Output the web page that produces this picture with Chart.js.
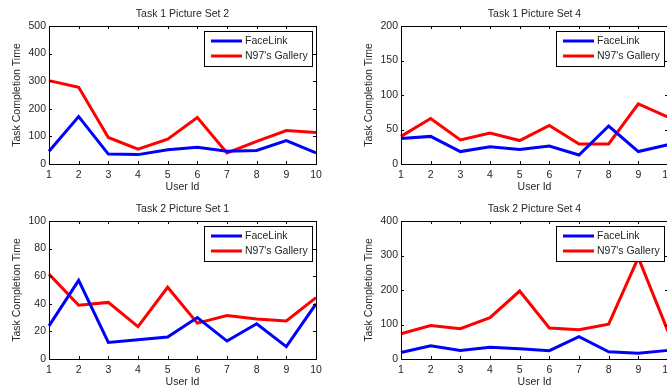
<!DOCTYPE html>
<html lang="en">
<head>
    <meta charset="UTF-8">
    <title>Task Completion Time</title>
    <script src="https://cdn.jsdelivr.net/npm/chart.js"></script>
    <style>
        body { margin: 0; width: 667px; height: 387px; overflow: hidden; background: #fff; position: relative; }
        .painel { position: absolute; width: 330px; height: 195px; }
    </style>
</head>
<body>

    <div class="painel" style="left:0;top:0"><canvas id="grafico_t1s2" width="330" height="195"></canvas></div>
    <div class="painel" style="left:352px;top:0"><canvas id="grafico_t1s4" width="330" height="195"></canvas></div>
    <div class="painel" style="left:0;top:195px"><canvas id="grafico_t2s1" width="330" height="195"></canvas></div>
    <div class="painel" style="left:352px;top:195px"><canvas id="grafico_t2s4" width="330" height="195"></canvas></div>

<script>
    // dados
    var userIds = ['1', '2', '3', '4', '5', '6', '7', '8', '9', '10'];

    var faceLinkT1S2 = [46, 172, 36, 34, 52, 61, 46, 49, 85, 40];
    var galleryT1S2  = [302, 278, 96, 54, 90, 168, 40, 82, 121, 114];

    var faceLinkT1S4 = [37, 40, 18, 25, 21, 26, 13, 55, 18, 28];
    var galleryT1S4  = [40, 66, 35, 45, 34, 56, 29, 29, 87, 68];

    var faceLinkT2S1 = [24, 57, 12, 14, 16, 30, 13, 25.5, 9, 40];
    var galleryT2S1  = [61.5, 39, 41, 23.5, 52, 26, 31.5, 29, 27.5, 44.5];

    var faceLinkT2S4 = [19, 38, 25, 34, 30, 24, 65, 21, 17, 25];
    var galleryT2S4  = [73, 97, 88, 120, 197, 90, 85, 101, 294, 80];

    var fonte = { family: '"Liberation Sans", Arial, sans-serif', size: 10.5 };
    var corTexto = '#262626';

    // caixa, ticks para dentro e legenda estilo matlab
    var caixaMatlab = {
        id: 'caixaMatlab',
        afterDatasetsDraw(chart) {
            var ctx = chart.ctx;
            var a = chart.chartArea;
            var x = chart.scales.x;
            var y = chart.scales.y;
            ctx.save();
            ctx.strokeStyle = '#000';
            ctx.lineWidth = 1;
            ctx.strokeRect(Math.round(a.left) + 0.5, Math.round(a.top) + 0.5, Math.round(a.width), Math.round(a.height));

            ctx.beginPath();
            x.ticks.forEach(function (t, i) {
                var px = Math.round(x.getPixelForTick(i)) + 0.5;
                ctx.moveTo(px, a.bottom); ctx.lineTo(px, a.bottom - 3);
                ctx.moveTo(px, a.top); ctx.lineTo(px, a.top + 3);
            });
            y.ticks.forEach(function (t, i) {
                var py = Math.round(y.getPixelForTick(i)) + 0.5;
                ctx.moveTo(a.left, py); ctx.lineTo(a.left + 3, py);
                ctx.moveTo(a.right, py); ctx.lineTo(a.right - 3, py);
            });
            ctx.stroke();

            // legenda
            var lx = Math.round(a.right) - 112, ly = Math.round(a.top) + 5, lw = 108, lh = 35;
            ctx.fillStyle = '#fff';
            ctx.fillRect(lx, ly, lw, lh);
            ctx.strokeRect(lx + 0.5, ly + 0.5, lw, lh);
            chart.data.datasets.forEach(function (ds, i) {
                var yy = ly + 10 + i * 15;
                ctx.strokeStyle = ds.borderColor;
                ctx.lineWidth = 3;
                ctx.beginPath();
                ctx.moveTo(lx + 7, yy);
                ctx.lineTo(lx + 38, yy);
                ctx.stroke();
                ctx.fillStyle = corTexto;
                ctx.font = fonte.size + 'px ' + fonte.family;
                ctx.textBaseline = 'middle';
                ctx.fillText(ds.label, lx + 41, yy);
            });
            ctx.restore();
        }
    };

    function plotarGrafico(id, titulo, faceLink, gallery, maximo, passo) {
        var ctx = document.getElementById(id).getContext('2d');

        var config = {
            type: 'line',
            data: {
                labels: userIds,
                datasets: [
                    { label: 'FaceLink', data: faceLink, borderColor: '#0000ff', borderWidth: 3, pointRadius: 0, tension: 0 },
                    { label: "N97's Gallery", data: gallery, borderColor: '#ff0000', borderWidth: 3, pointRadius: 0, tension: 0 }
                ]
            },
            options: {
                responsive: false,
                animation: false,
                layout: { padding: { left: 0, right: 14, top: 0, bottom: 0 } },
                plugins: {
                    legend: { display: false },
                    tooltip: { enabled: false },
                    title: {
                        display: true,
                        text: titulo,
                        fullSize: false,
                        color: corTexto,
                        font: { family: fonte.family, size: fonte.size, weight: 'normal' },
                        padding: { top: 7.7, bottom: 5.7 }
                    }
                },
                scales: {
                    x: {
                        type: 'category',
                        offset: false,
                        grid: { display: false, drawTicks: false },
                        border: { display: false },
                        ticks: { autoSkip: false, maxRotation: 0, padding: 5, color: corTexto, font: fonte },
                        title: { display: true, text: 'User Id', color: corTexto, font: fonte, padding: { top: 0, bottom: 2 } },
                        afterFit: function (scale) { scale.height = 31; }
                    },
                    y: {
                        min: 0,
                        max: maximo,
                        grid: { display: false, drawTicks: false },
                        border: { display: false },
                        ticks: { stepSize: passo, padding: 3, color: corTexto, font: fonte },
                        title: { display: true, text: 'Task Completion Time', color: corTexto, font: fonte, padding: { top: 11, bottom: 0 } },
                        afterFit: function (scale) { scale.width = 49; }
                    }
                }
            },
            plugins: [caixaMatlab]
        };

        new Chart(ctx, config);
    }

    plotarGrafico('grafico_t1s2', 'Task 1 Picture Set 2', faceLinkT1S2, galleryT1S2, 500, 100);
    plotarGrafico('grafico_t1s4', 'Task 1 Picture Set 4', faceLinkT1S4, galleryT1S4, 200, 50);
    plotarGrafico('grafico_t2s1', 'Task 2 Picture Set 1', faceLinkT2S1, galleryT2S1, 100, 20);
    plotarGrafico('grafico_t2s4', 'Task 2 Picture Set 4', faceLinkT2S4, galleryT2S4, 400, 100);
</script>
</body>
</html>
